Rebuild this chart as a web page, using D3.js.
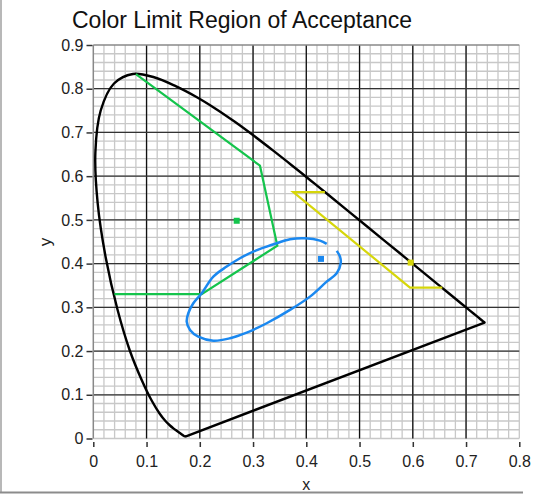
<!DOCTYPE html>
<html>
<head>
<meta charset="utf-8">
<script src="https://cdn.jsdelivr.net/npm/d3@7"></script>
<style>
  body { margin: 0; background: #fff; }
  svg { display: block; font-family: "Liberation Sans", Arial, sans-serif; }
</style>
</head>
<body>
<div id="chart"></div>
<script>
// CIE 1931 spectral locus, 380..700 nm (x, y)
const locus = [
  [0.1741,0.0050],[0.1740,0.0050],[0.1738,0.0049],[0.1736,0.0049],[0.1733,0.0048],
  [0.1730,0.0048],[0.1726,0.0048],[0.1721,0.0048],[0.1714,0.0051],[0.1703,0.0058],
  [0.1689,0.0069],[0.1669,0.0086],[0.1644,0.0109],[0.1611,0.0138],[0.1566,0.0177],
  [0.1510,0.0227],[0.1440,0.0297],[0.1355,0.0399],[0.1241,0.0578],[0.1096,0.0868],
  [0.0913,0.1327],[0.0687,0.2007],[0.0454,0.2950],[0.0235,0.4127],[0.0082,0.5384],
  [0.0039,0.6548],[0.0139,0.7502],[0.0389,0.8120],[0.0743,0.8338],[0.1142,0.8262],
  [0.1547,0.8059],[0.1929,0.7816],[0.2296,0.7543],[0.2658,0.7243],[0.3016,0.6923],
  [0.3373,0.6589],[0.3731,0.6245],[0.4087,0.5896],[0.4441,0.5547],[0.4788,0.5202],
  [0.5125,0.4866],[0.5448,0.4544],[0.5752,0.4242],[0.6029,0.3965],[0.6270,0.3725],
  [0.6482,0.3514],[0.6658,0.3340],[0.6801,0.3197],[0.6915,0.3083],[0.7006,0.2993],
  [0.7079,0.2920],[0.7140,0.2859],[0.7190,0.2809],[0.7230,0.2770],[0.7260,0.2740],
  [0.7283,0.2717],[0.7300,0.2700],[0.7311,0.2689],[0.7320,0.2680],[0.7327,0.2673],
  [0.7334,0.2666],[0.7340,0.2660],[0.7344,0.2656],[0.7346,0.2654],[0.7347,0.2653]
];

// green limit region
const greenLimit = [[0.0800,0.8335],[0.313,0.624],[0.3456,0.441],[0.2035,0.330],[0.0395,0.330]];
const greenPoint = [0.2693, 0.498];

// yellow limit region
const yellowLimit = [[0.435,0.5634],[0.3756,0.5634],[0.5947,0.345],[0.6554,0.345]];
const yellowPoint = [0.596, 0.4023];

// blue limit region (open loop)
const blueLimit = [
  [0.4383,0.4451],[0.4257,0.4527],[0.3976,0.4580],[0.3694,0.4558],[0.3444,0.4466],
  [0.3256,0.4390],[0.3005,0.4275],[0.2755,0.4123],[0.2505,0.3932],[0.2254,0.3703],
  [0.2036,0.3322],[0.1878,0.3094],[0.1784,0.2865],[0.1754,0.2673],[0.1816,0.2483],
  [0.1972,0.2330],[0.2254,0.2238],[0.2567,0.2293],[0.2881,0.2421],[0.3256,0.2636],
  [0.3694,0.2941],[0.4069,0.3245],[0.4383,0.3588],[0.4571,0.3780],[0.4646,0.4009],
  [0.4633,0.4160],[0.4571,0.4291]
];
const bluePoint = [0.4276, 0.4108];

const xTicks = [0, 0.1, 0.2, 0.3, 0.4, 0.5, 0.6, 0.7, 0.8];
const yTicks = [0, 0.1, 0.2, 0.3, 0.4, 0.5, 0.6, 0.7, 0.8, 0.9];
const tickLabel = d => d === 0 ? "0" : d3.format(".1f")(d);

const width = 536, height = 495;
const x = d3.scaleLinear().domain([0, 0.8]).range([93.3, 519.3]);
const y = d3.scaleLinear().domain([0, 0.9]).range([438.5, 45]);

const svg = d3.select("#chart").append("svg")
    .attr("width", width)
    .attr("height", height);

// outer frame
svg.append("line").attr("x1", 1).attr("x2", 1).attr("y1", 0).attr("y2", 493)
    .attr("stroke", "#a0a0a0").attr("stroke-width", 1.5);
svg.append("line").attr("x1", 0).attr("x2", 523).attr("y1", 492.5).attr("y2", 492.5)
    .attr("stroke", "#8c8c8c").attr("stroke-width", 2);

// title
svg.append("text")
    .attr("x", 72).attr("y", 28)
    .attr("font-size", 23)
    .attr("fill", "#111")
    .text("Color Limit Region of Acceptance");

// grid
const minorX = d3.range(0, 41).map(i => i * 0.02).filter(v => v > 0.0001);
const minorY = d3.range(0, 46).map(i => i * 0.02).filter(v => v < 0.8999);
const grid = svg.append("g");
grid.selectAll(".mx").data(minorX).enter().append("line")
    .attr("x1", d => x(d)).attr("x2", d => x(d))
    .attr("y1", y(0.9)).attr("y2", y(0))
    .attr("stroke", "#c8c8c8").attr("stroke-width", 1.3);
grid.selectAll(".my").data(minorY).enter().append("line")
    .attr("x1", x(0)).attr("x2", x(0.8))
    .attr("y1", d => y(d)).attr("y2", d => y(d))
    .attr("stroke", "#c8c8c8").attr("stroke-width", 1.3);
grid.selectAll(".Mx").data(xTicks.slice(1, -1)).enter().append("line")
    .attr("x1", d => x(d)).attr("x2", d => x(d))
    .attr("y1", y(0.9)).attr("y2", y(0))
    .attr("stroke", "#111").attr("stroke-width", 1.3);
grid.selectAll(".My").data(yTicks.slice(1, -1)).enter().append("line")
    .attr("x1", x(0)).attr("x2", x(0.8))
    .attr("y1", d => y(d)).attr("y2", d => y(d))
    .attr("stroke", "#333").attr("stroke-width", 1.3);

// plot border (top + left)
svg.append("line").attr("x1", x(0)).attr("x2", x(0.8)).attr("y1", y(0.9)).attr("y2", y(0.9))
    .attr("stroke", "#888").attr("stroke-width", 1.3);
svg.append("line").attr("x1", x(0)).attr("x2", x(0)).attr("y1", y(0.9)).attr("y2", y(0))
    .attr("stroke", "#888").attr("stroke-width", 1.5);

// axes
const yAxis = d3.axisLeft(y).tickValues(yTicks).tickFormat(tickLabel).tickSize(6).tickPadding(3);
const xAxis = d3.axisBottom(x).tickValues(xTicks).tickFormat(tickLabel).tickSize(5).tickPadding(9);

const gy = svg.append("g").attr("transform", "translate(92.5,0)").call(yAxis);
const gx = svg.append("g").attr("transform", "translate(0,442)").call(xAxis);
[gx, gy].forEach(g => {
  g.select(".domain").remove();
  g.selectAll(".tick line").attr("stroke", "#333").attr("stroke-width", 1.5);
  g.selectAll(".tick text").attr("font-size", 16).attr("fill", "#222")
      .attr("font-family", "Liberation Sans, Arial, sans-serif");
});

svg.append("text")
    .attr("x", (x(0) + x(0.8)) / 2).attr("y", 490)
    .attr("text-anchor", "middle").attr("font-size", 16).attr("fill", "#222")
    .text("x");
svg.append("text")
    .attr("transform", "translate(51,242) rotate(-90)")
    .attr("text-anchor", "middle").attr("font-size", 17).attr("fill", "#222")
    .text("y");

// data lines
const line = d3.line().x(d => x(d[0])).y(d => y(d[1]));
const smooth = d3.line().x(d => x(d[0])).y(d => y(d[1])).curve(d3.curveCatmullRom);

// spectral curve (smooth) plus the straight purple line closing it
svg.append("path").datum(locus).attr("d", smooth)
    .attr("fill", "none").attr("stroke", "#000").attr("stroke-width", 2.4)
    .attr("stroke-linejoin", "round");
svg.append("path").datum([locus[locus.length - 1], locus[0]]).attr("d", line)
    .attr("fill", "none").attr("stroke", "#000").attr("stroke-width", 2.4)
    .attr("stroke-linecap", "round");
svg.append("path").datum(greenLimit).attr("d", line)
    .attr("fill", "none").attr("stroke", "#14c44c").attr("stroke-width", 2.2);
svg.append("path").datum(yellowLimit).attr("d", line)
    .attr("fill", "none").attr("stroke", "#d6d60a").attr("stroke-width", 2.2);
svg.append("path").datum(blueLimit).attr("d", smooth)
    .attr("fill", "none").attr("stroke", "#1a88f0").attr("stroke-width", 2.5);

// measured points
const pts = [
  {p: greenPoint, c: "#14c44c"},
  {p: yellowPoint, c: "#d6d60a"},
  {p: bluePoint, c: "#1a88f0"}
];
svg.selectAll(".pt").data(pts).enter().append("rect")
    .attr("x", d => x(d.p[0]) - 3).attr("y", d => y(d.p[1]) - 3)
    .attr("width", 6).attr("height", 6)
    .attr("fill", d => d.c);
</script>
</body>
</html>
